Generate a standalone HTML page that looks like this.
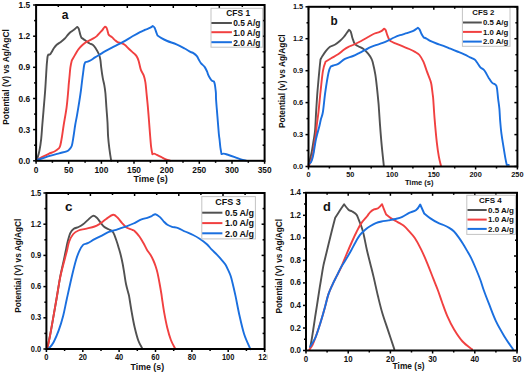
<!DOCTYPE html>
<html><head><meta charset="utf-8"><style>
html,body{margin:0;padding:0;background:#fff;}
body{width:525px;height:373px;overflow:hidden;}
svg{display:block;}
</style></head><body>
<svg width="525" height="373" viewBox="0 0 525 373">
<rect width="525" height="373" fill="#fff"/>
<line x1="36.1" y1="160.8" x2="36.1" y2="163.8" stroke="#000" stroke-width="1.5"/>
<line x1="52.4" y1="160.8" x2="52.4" y2="162.8" stroke="#000" stroke-width="1.5"/>
<line x1="68.7" y1="160.8" x2="68.7" y2="163.8" stroke="#000" stroke-width="1.5"/>
<line x1="85.1" y1="160.8" x2="85.1" y2="162.8" stroke="#000" stroke-width="1.5"/>
<line x1="101.4" y1="160.8" x2="101.4" y2="163.8" stroke="#000" stroke-width="1.5"/>
<line x1="117.7" y1="160.8" x2="117.7" y2="162.8" stroke="#000" stroke-width="1.5"/>
<line x1="134.0" y1="160.8" x2="134.0" y2="163.8" stroke="#000" stroke-width="1.5"/>
<line x1="150.4" y1="160.8" x2="150.4" y2="162.8" stroke="#000" stroke-width="1.5"/>
<line x1="166.7" y1="160.8" x2="166.7" y2="163.8" stroke="#000" stroke-width="1.5"/>
<line x1="183.0" y1="160.8" x2="183.0" y2="162.8" stroke="#000" stroke-width="1.5"/>
<line x1="199.3" y1="160.8" x2="199.3" y2="163.8" stroke="#000" stroke-width="1.5"/>
<line x1="215.6" y1="160.8" x2="215.6" y2="162.8" stroke="#000" stroke-width="1.5"/>
<line x1="232.0" y1="160.8" x2="232.0" y2="163.8" stroke="#000" stroke-width="1.5"/>
<line x1="248.3" y1="160.8" x2="248.3" y2="162.8" stroke="#000" stroke-width="1.5"/>
<line x1="264.6" y1="160.8" x2="264.6" y2="163.8" stroke="#000" stroke-width="1.5"/>
<line x1="36.1" y1="160.8" x2="33.1" y2="160.8" stroke="#000" stroke-width="1.5"/>
<line x1="264.6" y1="160.8" x2="261.6" y2="160.8" stroke="#000" stroke-width="1.5"/>
<line x1="36.1" y1="145.2" x2="34.1" y2="145.2" stroke="#000" stroke-width="1.5"/>
<line x1="264.6" y1="145.2" x2="262.6" y2="145.2" stroke="#000" stroke-width="1.5"/>
<line x1="36.1" y1="129.6" x2="33.1" y2="129.6" stroke="#000" stroke-width="1.5"/>
<line x1="264.6" y1="129.6" x2="261.6" y2="129.6" stroke="#000" stroke-width="1.5"/>
<line x1="36.1" y1="114.1" x2="34.1" y2="114.1" stroke="#000" stroke-width="1.5"/>
<line x1="264.6" y1="114.1" x2="262.6" y2="114.1" stroke="#000" stroke-width="1.5"/>
<line x1="36.1" y1="98.5" x2="33.1" y2="98.5" stroke="#000" stroke-width="1.5"/>
<line x1="264.6" y1="98.5" x2="261.6" y2="98.5" stroke="#000" stroke-width="1.5"/>
<line x1="36.1" y1="82.9" x2="34.1" y2="82.9" stroke="#000" stroke-width="1.5"/>
<line x1="264.6" y1="82.9" x2="262.6" y2="82.9" stroke="#000" stroke-width="1.5"/>
<line x1="36.1" y1="67.3" x2="33.1" y2="67.3" stroke="#000" stroke-width="1.5"/>
<line x1="264.6" y1="67.3" x2="261.6" y2="67.3" stroke="#000" stroke-width="1.5"/>
<line x1="36.1" y1="51.7" x2="34.1" y2="51.7" stroke="#000" stroke-width="1.5"/>
<line x1="264.6" y1="51.7" x2="262.6" y2="51.7" stroke="#000" stroke-width="1.5"/>
<line x1="36.1" y1="36.2" x2="33.1" y2="36.2" stroke="#000" stroke-width="1.5"/>
<line x1="264.6" y1="36.2" x2="261.6" y2="36.2" stroke="#000" stroke-width="1.5"/>
<line x1="36.1" y1="20.6" x2="34.1" y2="20.6" stroke="#000" stroke-width="1.5"/>
<line x1="264.6" y1="20.6" x2="262.6" y2="20.6" stroke="#000" stroke-width="1.5"/>
<line x1="36.1" y1="5.0" x2="33.1" y2="5.0" stroke="#000" stroke-width="1.5"/>
<line x1="264.6" y1="5.0" x2="261.6" y2="5.0" stroke="#000" stroke-width="1.5"/>
<line x1="58.3" y1="5.0" x2="58.3" y2="7.0" stroke="#000" stroke-width="1.5"/>
<line x1="81.3" y1="5.0" x2="81.3" y2="8.0" stroke="#000" stroke-width="1.5"/>
<line x1="104.3" y1="5.0" x2="104.3" y2="7.0" stroke="#000" stroke-width="1.5"/>
<line x1="127.3" y1="5.0" x2="127.3" y2="8.0" stroke="#000" stroke-width="1.5"/>
<line x1="150.3" y1="5.0" x2="150.3" y2="7.0" stroke="#000" stroke-width="1.5"/>
<line x1="173.3" y1="5.0" x2="173.3" y2="8.0" stroke="#000" stroke-width="1.5"/>
<line x1="196.3" y1="5.0" x2="196.3" y2="7.0" stroke="#000" stroke-width="1.5"/>
<line x1="219.3" y1="5.0" x2="219.3" y2="8.0" stroke="#000" stroke-width="1.5"/>
<line x1="242.3" y1="5.0" x2="242.3" y2="7.0" stroke="#000" stroke-width="1.5"/>
<g style="font-family:'Liberation Sans',sans-serif;font-weight:bold" fill="#111">
<text x="0" y="0" transform="translate(36.1 169.8) scale(0.95 1)" font-size="8.8" text-anchor="middle" dominant-baseline="central" >0</text>
<text x="0" y="0" transform="translate(68.7 169.8) scale(0.95 1)" font-size="8.8" text-anchor="middle" dominant-baseline="central" >50</text>
<text x="0" y="0" transform="translate(101.4 169.8) scale(0.95 1)" font-size="8.8" text-anchor="middle" dominant-baseline="central" >100</text>
<text x="0" y="0" transform="translate(134.0 169.8) scale(0.95 1)" font-size="8.8" text-anchor="middle" dominant-baseline="central" >150</text>
<text x="0" y="0" transform="translate(166.7 169.8) scale(0.95 1)" font-size="8.8" text-anchor="middle" dominant-baseline="central" >200</text>
<text x="0" y="0" transform="translate(199.3 169.8) scale(0.95 1)" font-size="8.8" text-anchor="middle" dominant-baseline="central" >250</text>
<text x="0" y="0" transform="translate(232.0 169.8) scale(0.95 1)" font-size="8.8" text-anchor="middle" dominant-baseline="central" >300</text>
<text x="0" y="0" transform="translate(264.6 169.8) scale(0.95 1)" font-size="8.8" text-anchor="middle" dominant-baseline="central" >350</text>
<text x="0" y="0" transform="translate(30.2 160.8) scale(0.95 1)" font-size="8.8" text-anchor="end" dominant-baseline="central" >0.0</text>
<text x="0" y="0" transform="translate(30.2 129.6) scale(0.95 1)" font-size="8.8" text-anchor="end" dominant-baseline="central" >0.3</text>
<text x="0" y="0" transform="translate(30.2 98.5) scale(0.95 1)" font-size="8.8" text-anchor="end" dominant-baseline="central" >0.6</text>
<text x="0" y="0" transform="translate(30.2 67.3) scale(0.95 1)" font-size="8.8" text-anchor="end" dominant-baseline="central" >0.9</text>
<text x="0" y="0" transform="translate(30.2 36.2) scale(0.95 1)" font-size="8.8" text-anchor="end" dominant-baseline="central" >1.2</text>
<text x="0" y="0" transform="translate(30.2 5.0) scale(0.95 1)" font-size="8.8" text-anchor="end" dominant-baseline="central" >1.5</text>
<text x="0" y="0" transform="translate(150.6 179.3)" font-size="9.0" text-anchor="middle" dominant-baseline="central" >Time (s)</text>
<text x="0" y="0" transform="translate(6.2 77.0) rotate(-90)" font-size="8.4" text-anchor="middle" dominant-baseline="central" >Potential (V) vs Ag/AgCl</text>
</g>
<g style="font-family:'Liberation Sans',sans-serif;font-weight:bold" fill="#111">
<text x="0" y="0" transform="translate(61.7 15.2) scale(0.93 1)" font-size="13" text-anchor="start" dominant-baseline="central" >a</text>
</g>
<path d="M36.30,160.30 C36.53,159.80 37.17,158.95 37.70,157.30 C38.23,155.65 38.92,153.48 39.50,150.40 C40.08,147.32 40.73,143.03 41.20,138.80 C41.67,134.57 41.92,129.67 42.30,125.00 C42.68,120.33 43.02,116.63 43.50,110.80 C43.98,104.97 44.68,97.30 45.20,90.00 C45.72,82.70 46.27,72.00 46.60,67.00 C46.93,62.00 47.03,61.75 47.20,60.00 C47.37,58.25 47.42,57.40 47.60,56.50 C47.78,55.60 48.30,54.60 48.30,54.60 C48.30,54.60 49.27,54.98 49.80,54.60 C50.33,54.22 50.83,53.35 51.50,52.30 C52.17,51.25 52.93,49.55 53.80,48.30 C54.67,47.05 55.53,45.87 56.70,44.80 C57.87,43.73 59.45,42.95 60.80,41.90 C62.15,40.85 63.65,39.65 64.80,38.50 C65.95,37.35 66.73,36.07 67.70,35.00 C68.67,33.93 69.45,33.07 70.60,32.10 C71.75,31.13 73.50,30.07 74.60,29.20 C75.70,28.33 77.20,26.90 77.20,26.90 C77.20,26.90 78.17,27.35 78.70,28.70 C79.23,30.05 79.93,33.47 80.40,35.00 C80.87,36.53 81.50,37.90 81.50,37.90 C81.50,37.90 82.53,38.50 83.40,39.10 C84.27,39.70 85.67,40.77 86.70,41.50 C87.73,42.23 88.60,42.95 89.60,43.50 C90.60,44.05 91.72,44.05 92.70,44.80 C93.68,45.55 94.45,46.38 95.50,48.00 C96.55,49.62 98.18,52.50 99.00,54.50 C99.82,56.50 100.03,57.87 100.40,60.00 C100.77,62.13 100.82,64.35 101.20,67.30 C101.58,70.25 102.20,74.82 102.70,77.70 C103.20,80.58 103.75,82.05 104.20,84.60 C104.65,87.15 105.03,89.22 105.40,93.00 C105.77,96.78 106.05,102.42 106.40,107.30 C106.75,112.18 107.22,117.43 107.50,122.30 C107.78,127.17 107.80,132.20 108.10,136.50 C108.40,140.80 108.82,144.25 109.30,148.10 C109.78,151.95 110.65,157.57 111.00,159.60 C111.35,161.63 111.33,160.18 111.40,160.30" fill="none" stroke="#515151" stroke-width="1.9" stroke-linejoin="round" stroke-linecap="round"/>
<path d="M36.50,160.20 C37.57,159.62 40.87,157.77 42.90,156.70 C44.93,155.63 46.77,154.67 48.70,153.80 C50.63,152.93 52.87,152.35 54.50,151.50 C56.13,150.65 57.55,149.65 58.50,148.70 C59.45,147.75 59.62,147.83 60.20,145.80 C60.78,143.77 61.42,139.97 62.00,136.50 C62.58,133.03 62.93,129.87 63.70,125.00 C64.47,120.13 65.83,113.13 66.60,107.30 C67.37,101.47 67.95,93.78 68.30,90.00 C68.65,86.22 68.50,86.85 68.70,84.60 C68.90,82.35 69.22,79.38 69.50,76.50 C69.78,73.62 70.02,69.97 70.40,67.30 C70.78,64.63 71.80,60.50 71.80,60.50 C71.80,60.50 74.93,54.85 76.10,52.90 C77.27,50.95 77.70,50.15 78.80,48.80 C79.90,47.45 81.50,45.92 82.70,44.80 C83.90,43.68 84.77,42.88 86.00,42.10 C87.23,41.32 88.87,40.72 90.10,40.10 C91.33,39.48 92.28,39.07 93.40,38.40 C94.52,37.73 95.78,36.98 96.80,36.10 C97.82,35.22 98.62,34.05 99.50,33.10 C100.38,32.15 101.38,31.25 102.10,30.40 C102.82,29.55 103.32,28.62 103.80,28.00 C104.28,27.38 105.00,26.70 105.00,26.70 C105.00,26.70 106.08,27.03 106.50,27.70 C106.92,28.37 107.17,29.58 107.50,30.70 C107.83,31.82 108.50,34.40 108.50,34.40 C108.50,34.40 109.18,35.30 109.80,35.80 C110.42,36.30 111.35,36.68 112.20,37.40 C113.05,38.12 114.02,39.32 114.90,40.10 C115.78,40.88 116.40,41.57 117.50,42.10 C118.60,42.63 120.25,42.82 121.50,43.30 C122.75,43.78 123.83,44.13 125.00,45.00 C126.17,45.87 127.30,47.35 128.50,48.50 C129.70,49.65 131.08,50.90 132.20,51.90 C133.32,52.90 134.35,53.57 135.20,54.50 C136.05,55.43 136.70,56.33 137.30,57.50 C137.90,58.67 138.22,59.48 138.80,61.50 C139.38,63.52 139.98,67.28 140.80,69.60 C141.62,71.92 142.93,73.28 143.70,75.40 C144.47,77.52 144.93,79.37 145.40,82.30 C145.87,85.23 146.08,88.83 146.50,93.00 C146.92,97.17 147.47,102.42 147.90,107.30 C148.33,112.18 148.72,117.43 149.10,122.30 C149.48,127.17 149.85,132.32 150.20,136.50 C150.55,140.68 150.83,144.45 151.20,147.40 C151.57,150.35 152.40,154.20 152.40,154.20 C152.40,154.20 153.58,153.55 154.20,153.60 C154.82,153.65 154.97,153.95 156.10,154.50 C157.23,155.05 159.37,156.08 161.00,156.90 C162.63,157.72 164.35,158.78 165.90,159.40 C167.45,160.02 169.57,160.40 170.30,160.60" fill="none" stroke="#F14040" stroke-width="1.9" stroke-linejoin="round" stroke-linecap="round"/>
<path d="M37.20,159.60 C37.97,159.42 39.70,159.12 41.80,158.50 C43.90,157.88 46.92,156.77 49.80,155.90 C52.68,155.03 56.30,154.07 59.10,153.30 C61.90,152.53 64.87,151.98 66.60,151.30 C68.33,150.62 68.63,150.12 69.50,149.20 C70.37,148.28 71.13,147.92 71.80,145.80 C72.47,143.68 72.93,139.97 73.50,136.50 C74.07,133.03 74.62,128.52 75.20,125.00 C75.78,121.48 76.32,119.32 77.00,115.40 C77.68,111.48 78.63,105.73 79.30,101.50 C79.97,97.27 80.57,93.20 81.00,90.00 C81.43,86.80 81.55,85.12 81.90,82.30 C82.25,79.48 82.72,75.98 83.10,73.10 C83.48,70.22 83.82,66.83 84.20,65.00 C84.58,63.17 85.40,62.10 85.40,62.10 C85.40,62.10 86.73,61.95 87.70,61.60 C88.67,61.25 89.98,60.70 91.20,60.00 C92.42,59.30 93.40,58.42 95.00,57.40 C96.60,56.38 99.23,54.85 100.80,53.90 C102.37,52.95 102.23,52.92 104.40,51.70 C106.57,50.48 110.68,48.23 113.80,46.60 C116.92,44.97 119.98,43.62 123.10,41.90 C126.22,40.18 129.68,37.93 132.50,36.30 C135.32,34.67 137.98,33.15 140.00,32.10 C142.02,31.05 142.87,30.73 144.60,30.00 C146.33,29.27 149.03,28.37 150.40,27.70 C151.77,27.03 152.80,26.00 152.80,26.00 C152.80,26.00 154.02,26.65 154.60,27.70 C155.18,28.75 155.82,31.00 156.30,32.30 C156.78,33.60 157.50,35.50 157.50,35.50 C157.50,35.50 159.87,37.18 161.50,38.10 C163.13,39.02 164.80,39.95 167.30,41.00 C169.80,42.05 173.62,43.15 176.50,44.40 C179.38,45.65 182.28,47.25 184.60,48.50 C186.92,49.75 188.93,51.13 190.40,51.90 C191.87,52.67 192.32,52.40 193.40,53.10 C194.48,53.80 195.97,54.95 196.90,56.10 C197.83,57.25 198.30,58.78 199.00,60.00 C199.70,61.22 200.17,62.25 201.10,63.40 C202.03,64.55 203.60,65.53 204.60,66.90 C205.60,68.27 206.53,70.37 207.10,71.60 C207.67,72.83 207.48,73.13 208.00,74.30 C208.52,75.47 209.53,77.52 210.20,78.60 C210.87,79.68 211.38,80.33 212.00,80.80 C212.62,81.27 213.90,81.40 213.90,81.40 C213.90,81.40 214.55,83.02 214.80,84.20 C215.05,85.38 215.22,87.03 215.40,88.50 C215.58,89.97 215.78,91.08 215.90,93.00 C216.02,94.92 215.85,96.15 216.10,100.00 C216.35,103.85 216.95,110.52 217.40,116.10 C217.85,121.68 218.43,129.52 218.80,133.50 C219.17,137.48 219.33,137.65 219.60,140.00 C219.87,142.35 220.08,145.25 220.40,147.60 C220.72,149.95 221.50,154.10 221.50,154.10 C221.50,154.10 222.85,153.53 223.80,153.60 C224.75,153.67 225.37,153.92 227.20,154.50 C229.03,155.08 232.52,156.28 234.80,157.10 C237.08,157.92 238.98,158.82 240.90,159.40 C242.82,159.98 245.40,160.40 246.30,160.60" fill="none" stroke="#1A6FDF" stroke-width="1.9" stroke-linejoin="round" stroke-linecap="round"/>
<rect x="211" y="8.3" width="51.69999999999999" height="38.900000000000006" fill="#fff" stroke="#c4c4c4" stroke-width="1"/>
<g style="font-family:'Liberation Sans',sans-serif;font-weight:bold" fill="#111">
<text x="0" y="0" transform="translate(238.2 13.2)" font-size="8.4" text-anchor="middle" dominant-baseline="central" >CFS 1</text>
<line x1="211.4" y1="23" x2="231.9" y2="23" stroke="#515151" stroke-width="2"/>
<text x="0" y="0" transform="translate(233.2 23.3)" font-size="8.4" text-anchor="start" dominant-baseline="central" >0.5 A/g</text>
<line x1="211.4" y1="32.2" x2="231.9" y2="32.2" stroke="#F14040" stroke-width="2"/>
<text x="0" y="0" transform="translate(233.2 32.5)" font-size="8.4" text-anchor="start" dominant-baseline="central" >1.0 A/g</text>
<line x1="211.4" y1="42.2" x2="231.9" y2="42.2" stroke="#1A6FDF" stroke-width="2"/>
<text x="0" y="0" transform="translate(233.2 42.5)" font-size="8.4" text-anchor="start" dominant-baseline="central" >2.0 A/g</text>
</g>
<rect x="36.1" y="5.0" width="228.50000000000003" height="155.8" fill="none" stroke="#000" stroke-width="2"/>
<line x1="308.5" y1="166.5" x2="308.5" y2="169.5" stroke="#000" stroke-width="1.5"/>
<line x1="329.4" y1="166.5" x2="329.4" y2="168.5" stroke="#000" stroke-width="1.5"/>
<line x1="350.3" y1="166.5" x2="350.3" y2="169.5" stroke="#000" stroke-width="1.5"/>
<line x1="371.2" y1="166.5" x2="371.2" y2="168.5" stroke="#000" stroke-width="1.5"/>
<line x1="392.1" y1="166.5" x2="392.1" y2="169.5" stroke="#000" stroke-width="1.5"/>
<line x1="412.9" y1="166.5" x2="412.9" y2="168.5" stroke="#000" stroke-width="1.5"/>
<line x1="433.8" y1="166.5" x2="433.8" y2="169.5" stroke="#000" stroke-width="1.5"/>
<line x1="454.7" y1="166.5" x2="454.7" y2="168.5" stroke="#000" stroke-width="1.5"/>
<line x1="475.6" y1="166.5" x2="475.6" y2="169.5" stroke="#000" stroke-width="1.5"/>
<line x1="496.5" y1="166.5" x2="496.5" y2="168.5" stroke="#000" stroke-width="1.5"/>
<line x1="517.4" y1="166.5" x2="517.4" y2="169.5" stroke="#000" stroke-width="1.5"/>
<line x1="308.5" y1="166.5" x2="305.5" y2="166.5" stroke="#000" stroke-width="1.5"/>
<line x1="517.4" y1="166.5" x2="514.4" y2="166.5" stroke="#000" stroke-width="1.5"/>
<line x1="308.5" y1="150.5" x2="306.5" y2="150.5" stroke="#000" stroke-width="1.5"/>
<line x1="517.4" y1="150.5" x2="515.4" y2="150.5" stroke="#000" stroke-width="1.5"/>
<line x1="308.5" y1="134.6" x2="305.5" y2="134.6" stroke="#000" stroke-width="1.5"/>
<line x1="517.4" y1="134.6" x2="514.4" y2="134.6" stroke="#000" stroke-width="1.5"/>
<line x1="308.5" y1="118.6" x2="306.5" y2="118.6" stroke="#000" stroke-width="1.5"/>
<line x1="517.4" y1="118.6" x2="515.4" y2="118.6" stroke="#000" stroke-width="1.5"/>
<line x1="308.5" y1="102.6" x2="305.5" y2="102.6" stroke="#000" stroke-width="1.5"/>
<line x1="517.4" y1="102.6" x2="514.4" y2="102.6" stroke="#000" stroke-width="1.5"/>
<line x1="308.5" y1="86.7" x2="306.5" y2="86.7" stroke="#000" stroke-width="1.5"/>
<line x1="517.4" y1="86.7" x2="515.4" y2="86.7" stroke="#000" stroke-width="1.5"/>
<line x1="308.5" y1="70.7" x2="305.5" y2="70.7" stroke="#000" stroke-width="1.5"/>
<line x1="517.4" y1="70.7" x2="514.4" y2="70.7" stroke="#000" stroke-width="1.5"/>
<line x1="308.5" y1="54.7" x2="306.5" y2="54.7" stroke="#000" stroke-width="1.5"/>
<line x1="517.4" y1="54.7" x2="515.4" y2="54.7" stroke="#000" stroke-width="1.5"/>
<line x1="308.5" y1="38.7" x2="305.5" y2="38.7" stroke="#000" stroke-width="1.5"/>
<line x1="517.4" y1="38.7" x2="514.4" y2="38.7" stroke="#000" stroke-width="1.5"/>
<line x1="308.5" y1="22.8" x2="306.5" y2="22.8" stroke="#000" stroke-width="1.5"/>
<line x1="517.4" y1="22.8" x2="515.4" y2="22.8" stroke="#000" stroke-width="1.5"/>
<line x1="308.5" y1="6.8" x2="305.5" y2="6.8" stroke="#000" stroke-width="1.5"/>
<line x1="517.4" y1="6.8" x2="514.4" y2="6.8" stroke="#000" stroke-width="1.5"/>
<line x1="308.5" y1="6.8" x2="308.5" y2="9.8" stroke="#000" stroke-width="1.5"/>
<line x1="329.4" y1="6.8" x2="329.4" y2="8.8" stroke="#000" stroke-width="1.5"/>
<line x1="350.3" y1="6.8" x2="350.3" y2="9.8" stroke="#000" stroke-width="1.5"/>
<line x1="371.2" y1="6.8" x2="371.2" y2="8.8" stroke="#000" stroke-width="1.5"/>
<line x1="392.1" y1="6.8" x2="392.1" y2="9.8" stroke="#000" stroke-width="1.5"/>
<line x1="412.9" y1="6.8" x2="412.9" y2="8.8" stroke="#000" stroke-width="1.5"/>
<line x1="433.8" y1="6.8" x2="433.8" y2="9.8" stroke="#000" stroke-width="1.5"/>
<line x1="454.7" y1="6.8" x2="454.7" y2="8.8" stroke="#000" stroke-width="1.5"/>
<line x1="475.6" y1="6.8" x2="475.6" y2="9.8" stroke="#000" stroke-width="1.5"/>
<line x1="496.5" y1="6.8" x2="496.5" y2="8.8" stroke="#000" stroke-width="1.5"/>
<line x1="517.4" y1="6.8" x2="517.4" y2="9.8" stroke="#000" stroke-width="1.5"/>
<g style="font-family:'Liberation Sans',sans-serif;font-weight:bold" fill="#111">
<text x="0" y="0" transform="translate(308.5 174.8) scale(0.92 1)" font-size="8.0" text-anchor="middle" dominant-baseline="central" >0</text>
<text x="0" y="0" transform="translate(350.3 174.8) scale(0.92 1)" font-size="8.0" text-anchor="middle" dominant-baseline="central" >50</text>
<text x="0" y="0" transform="translate(392.1 174.8) scale(0.92 1)" font-size="8.0" text-anchor="middle" dominant-baseline="central" >100</text>
<text x="0" y="0" transform="translate(433.8 174.8) scale(0.92 1)" font-size="8.0" text-anchor="middle" dominant-baseline="central" >150</text>
<text x="0" y="0" transform="translate(475.6 174.8) scale(0.92 1)" font-size="8.0" text-anchor="middle" dominant-baseline="central" >200</text>
<text x="0" y="0" transform="translate(517.4 174.8) scale(0.92 1)" font-size="8.0" text-anchor="middle" dominant-baseline="central" >250</text>
<text x="0" y="0" transform="translate(303.2 166.5) scale(0.92 1)" font-size="8.0" text-anchor="end" dominant-baseline="central" >0.0</text>
<text x="0" y="0" transform="translate(303.2 134.6) scale(0.92 1)" font-size="8.0" text-anchor="end" dominant-baseline="central" >0.3</text>
<text x="0" y="0" transform="translate(303.2 102.6) scale(0.92 1)" font-size="8.0" text-anchor="end" dominant-baseline="central" >0.6</text>
<text x="0" y="0" transform="translate(303.2 70.7) scale(0.92 1)" font-size="8.0" text-anchor="end" dominant-baseline="central" >0.9</text>
<text x="0" y="0" transform="translate(303.2 38.7) scale(0.92 1)" font-size="8.0" text-anchor="end" dominant-baseline="central" >1.2</text>
<text x="0" y="0" transform="translate(303.2 6.8) scale(0.92 1)" font-size="8.0" text-anchor="end" dominant-baseline="central" >1.5</text>
<text x="0" y="0" transform="translate(419.2 182.8) scale(0.94 1)" font-size="8.0" text-anchor="middle" dominant-baseline="central" >Time (s)</text>
<text x="0" y="0" transform="translate(282.0 81.2) rotate(-90)" font-size="8.3" text-anchor="middle" dominant-baseline="central" >Potential (v) vs Ag/AgCl</text>
</g>
<g style="font-family:'Liberation Sans',sans-serif;font-weight:bold" fill="#111">
<text x="0" y="0" transform="translate(330.6 21.0) scale(0.92 1)" font-size="12.8" text-anchor="start" dominant-baseline="central" >b</text>
</g>
<path d="M308.60,164.50 C308.87,163.50 309.68,160.58 310.20,158.50 C310.72,156.42 311.12,155.08 311.70,152.00 C312.28,148.92 313.13,143.67 313.70,140.00 C314.27,136.33 314.70,134.67 315.10,130.00 C315.50,125.33 315.75,117.83 316.10,112.00 C316.45,106.17 316.83,100.00 317.20,95.00 C317.57,90.00 317.90,86.50 318.30,82.00 C318.70,77.50 319.23,71.75 319.60,68.00 C319.97,64.25 320.50,59.50 320.50,59.50 C320.50,59.50 321.68,57.25 322.60,55.80 C323.52,54.35 324.77,52.30 326.00,50.80 C327.23,49.30 328.47,47.85 330.00,46.80 C331.53,45.75 333.57,45.47 335.20,44.50 C336.83,43.53 338.37,42.25 339.80,41.00 C341.23,39.75 342.65,38.33 343.80,37.00 C344.95,35.67 345.83,34.20 346.70,33.00 C347.57,31.80 349.00,29.80 349.00,29.80 C349.00,29.80 350.22,30.40 350.80,31.80 C351.38,33.20 351.83,36.18 352.50,38.20 C353.17,40.22 353.83,42.57 354.80,43.90 C355.77,45.23 356.85,45.33 358.30,46.20 C359.75,47.07 361.87,47.85 363.50,49.10 C365.13,50.35 366.77,52.07 368.10,53.70 C369.43,55.33 370.70,57.35 371.50,58.90 C372.30,60.45 372.27,60.43 372.90,63.00 C373.53,65.57 374.63,70.27 375.30,74.30 C375.97,78.33 376.37,82.38 376.90,87.20 C377.43,92.02 378.15,99.40 378.50,103.20 C378.85,107.00 378.73,106.18 379.00,110.00 C379.27,113.82 379.65,120.20 380.10,126.10 C380.55,132.00 381.08,138.83 381.70,145.40 C382.32,151.97 383.45,162.15 383.80,165.50" fill="none" stroke="#515151" stroke-width="1.9" stroke-linejoin="round" stroke-linecap="round"/>
<path d="M308.40,166.00 C308.60,165.68 309.07,165.22 309.60,164.10 C310.13,162.98 310.98,161.32 311.60,159.30 C312.22,157.28 312.75,155.22 313.30,152.00 C313.85,148.78 314.50,142.65 314.90,140.00 C315.30,137.35 315.37,138.75 315.70,136.10 C316.03,133.45 316.43,128.12 316.90,124.10 C317.37,120.08 317.90,117.35 318.50,112.00 C319.10,106.65 319.77,98.82 320.50,92.00 C321.23,85.18 322.07,76.13 322.90,71.10 C323.73,66.07 325.50,61.80 325.50,61.80 C325.50,61.80 329.10,59.55 331.20,58.30 C333.30,57.05 336.00,55.73 338.10,54.30 C340.20,52.87 342.07,50.95 343.80,49.70 C345.53,48.45 346.77,47.67 348.50,46.80 C350.23,45.93 352.08,45.47 354.20,44.50 C356.32,43.53 358.88,42.25 361.20,41.00 C363.52,39.75 365.87,38.25 368.10,37.00 C370.33,35.75 372.75,34.32 374.60,33.50 C376.45,32.68 377.95,32.58 379.20,32.10 C380.45,31.62 381.28,31.18 382.10,30.60 C382.92,30.02 384.10,28.60 384.10,28.60 C384.10,28.60 385.07,28.90 385.60,30.00 C386.13,31.10 386.73,33.67 387.30,35.20 C387.87,36.73 388.42,38.18 389.00,39.20 C389.58,40.22 389.73,40.62 390.80,41.30 C391.87,41.98 393.48,42.48 395.40,43.30 C397.32,44.12 400.00,45.25 402.30,46.20 C404.60,47.15 407.08,48.05 409.20,49.00 C411.32,49.95 413.30,50.90 415.00,51.90 C416.70,52.90 418.00,53.37 419.40,55.00 C420.80,56.63 422.17,59.02 423.40,61.70 C424.63,64.38 425.68,68.08 426.80,71.10 C427.92,74.12 429.33,77.57 430.10,79.80 C430.87,82.03 430.95,81.93 431.40,84.50 C431.85,87.07 432.48,92.62 432.80,95.20 C433.12,97.78 433.00,96.07 433.30,100.00 C433.60,103.93 434.00,111.60 434.60,118.80 C435.20,126.00 436.20,136.95 436.90,143.20 C437.60,149.45 438.12,152.50 438.80,156.30 C439.48,160.10 440.63,164.38 441.00,166.00" fill="none" stroke="#F14040" stroke-width="1.9" stroke-linejoin="round" stroke-linecap="round"/>
<path d="M308.80,163.70 C309.13,163.50 310.20,163.37 310.80,162.50 C311.40,161.63 311.90,160.25 312.40,158.50 C312.90,156.75 313.27,154.92 313.80,152.00 C314.33,149.08 315.05,143.92 315.60,141.00 C316.15,138.08 316.48,136.92 317.10,134.50 C317.72,132.08 318.67,129.05 319.30,126.50 C319.93,123.95 320.30,121.62 320.90,119.20 C321.50,116.78 322.17,116.53 322.90,112.00 C323.63,107.47 324.37,98.55 325.30,92.00 C326.23,85.45 327.57,76.98 328.50,72.70 C329.43,68.42 330.90,66.30 330.90,66.30 C330.90,66.30 332.08,65.92 333.30,65.50 C334.52,65.08 336.25,64.90 338.20,63.80 C340.15,62.70 342.52,60.20 345.00,58.90 C347.48,57.60 350.60,57.05 353.10,56.00 C355.60,54.95 357.88,53.65 360.00,52.60 C362.12,51.55 364.13,50.58 365.80,49.70 C367.47,48.82 368.33,48.05 370.00,47.30 C371.67,46.55 373.68,45.93 375.80,45.20 C377.92,44.47 380.58,43.70 382.70,42.90 C384.82,42.10 386.58,41.30 388.50,40.40 C390.42,39.50 392.28,38.37 394.20,37.50 C396.12,36.63 397.88,35.92 400.00,35.20 C402.12,34.48 404.78,33.87 406.90,33.20 C409.02,32.53 411.25,31.83 412.70,31.20 C414.15,30.57 414.73,29.98 415.60,29.40 C416.47,28.82 417.90,27.70 417.90,27.70 C417.90,27.70 419.03,28.43 419.60,29.40 C420.17,30.37 420.62,32.15 421.30,33.50 C421.98,34.85 423.70,37.50 423.70,37.50 C423.70,37.50 425.32,38.08 426.50,38.70 C427.68,39.32 429.13,40.40 430.80,41.20 C432.47,42.00 434.38,42.73 436.50,43.50 C438.62,44.27 441.18,44.93 443.50,45.80 C445.82,46.67 448.10,47.75 450.40,48.70 C452.70,49.65 455.00,50.55 457.30,51.50 C459.60,52.45 462.08,53.43 464.20,54.40 C466.32,55.37 468.27,56.43 470.00,57.30 C471.73,58.17 473.37,58.65 474.60,59.60 C475.83,60.55 476.43,61.72 477.40,63.00 C478.37,64.28 479.32,66.15 480.40,67.30 C481.48,68.45 482.90,68.83 483.90,69.90 C484.90,70.97 485.55,72.28 486.40,73.70 C487.25,75.12 488.07,76.90 489.00,78.40 C489.93,79.90 491.07,81.77 492.00,82.70 C492.93,83.63 494.60,84.00 494.60,84.00 C494.60,84.00 495.88,84.85 496.30,85.70 C496.72,86.55 496.80,86.95 497.10,89.10 C497.40,91.25 497.72,95.30 498.10,98.60 C498.48,101.90 499.07,105.33 499.40,108.90 C499.73,112.47 499.77,115.92 500.10,120.00 C500.43,124.08 500.83,128.93 501.40,133.40 C501.97,137.87 502.82,142.55 503.50,146.80 C504.18,151.05 504.95,155.88 505.50,158.90 C506.05,161.92 506.80,164.90 506.80,164.90 C506.80,164.90 508.47,164.90 508.80,164.90" fill="none" stroke="#1A6FDF" stroke-width="1.9" stroke-linejoin="round" stroke-linecap="round"/>
<rect x="462.4" y="7.4" width="47.60000000000002" height="38.9" fill="#fff" stroke="#c4c4c4" stroke-width="1"/>
<g style="font-family:'Liberation Sans',sans-serif;font-weight:bold" fill="#111">
<text x="0" y="0" transform="translate(483.4 12.7)" font-size="7.8" text-anchor="middle" dominant-baseline="central" >CFS 2</text>
<line x1="463" y1="22.5" x2="481.8" y2="22.5" stroke="#515151" stroke-width="2"/>
<text x="0" y="0" transform="translate(483.0 22.8)" font-size="7.8" text-anchor="start" dominant-baseline="central" >0.5 A/g</text>
<line x1="463" y1="31.9" x2="481.8" y2="31.9" stroke="#F14040" stroke-width="2"/>
<text x="0" y="0" transform="translate(483.0 32.199999999999996)" font-size="7.8" text-anchor="start" dominant-baseline="central" >1.0 A/g</text>
<line x1="463" y1="41.6" x2="481.8" y2="41.6" stroke="#1A6FDF" stroke-width="2"/>
<text x="0" y="0" transform="translate(483.0 41.9)" font-size="7.8" text-anchor="start" dominant-baseline="central" >2.0 A/g</text>
</g>
<rect x="308.5" y="6.8" width="208.89999999999998" height="159.7" fill="none" stroke="#000" stroke-width="2"/>
<line x1="46.4" y1="349.0" x2="46.4" y2="352.0" stroke="#000" stroke-width="1.5"/>
<line x1="64.6" y1="349.0" x2="64.6" y2="351.0" stroke="#000" stroke-width="1.5"/>
<line x1="82.8" y1="349.0" x2="82.8" y2="352.0" stroke="#000" stroke-width="1.5"/>
<line x1="101.0" y1="349.0" x2="101.0" y2="351.0" stroke="#000" stroke-width="1.5"/>
<line x1="119.1" y1="349.0" x2="119.1" y2="352.0" stroke="#000" stroke-width="1.5"/>
<line x1="137.3" y1="349.0" x2="137.3" y2="351.0" stroke="#000" stroke-width="1.5"/>
<line x1="155.5" y1="349.0" x2="155.5" y2="352.0" stroke="#000" stroke-width="1.5"/>
<line x1="173.7" y1="349.0" x2="173.7" y2="351.0" stroke="#000" stroke-width="1.5"/>
<line x1="191.9" y1="349.0" x2="191.9" y2="352.0" stroke="#000" stroke-width="1.5"/>
<line x1="210.1" y1="349.0" x2="210.1" y2="351.0" stroke="#000" stroke-width="1.5"/>
<line x1="228.2" y1="349.0" x2="228.2" y2="352.0" stroke="#000" stroke-width="1.5"/>
<line x1="246.4" y1="349.0" x2="246.4" y2="351.0" stroke="#000" stroke-width="1.5"/>
<line x1="264.6" y1="349.0" x2="264.6" y2="352.0" stroke="#000" stroke-width="1.5"/>
<line x1="46.4" y1="349.0" x2="43.4" y2="349.0" stroke="#000" stroke-width="1.5"/>
<line x1="264.6" y1="349.0" x2="261.6" y2="349.0" stroke="#000" stroke-width="1.5"/>
<line x1="46.4" y1="333.4" x2="44.4" y2="333.4" stroke="#000" stroke-width="1.5"/>
<line x1="264.6" y1="333.4" x2="262.6" y2="333.4" stroke="#000" stroke-width="1.5"/>
<line x1="46.4" y1="317.8" x2="43.4" y2="317.8" stroke="#000" stroke-width="1.5"/>
<line x1="264.6" y1="317.8" x2="261.6" y2="317.8" stroke="#000" stroke-width="1.5"/>
<line x1="46.4" y1="302.2" x2="44.4" y2="302.2" stroke="#000" stroke-width="1.5"/>
<line x1="264.6" y1="302.2" x2="262.6" y2="302.2" stroke="#000" stroke-width="1.5"/>
<line x1="46.4" y1="286.6" x2="43.4" y2="286.6" stroke="#000" stroke-width="1.5"/>
<line x1="264.6" y1="286.6" x2="261.6" y2="286.6" stroke="#000" stroke-width="1.5"/>
<line x1="46.4" y1="271.0" x2="44.4" y2="271.0" stroke="#000" stroke-width="1.5"/>
<line x1="264.6" y1="271.0" x2="262.6" y2="271.0" stroke="#000" stroke-width="1.5"/>
<line x1="46.4" y1="255.4" x2="43.4" y2="255.4" stroke="#000" stroke-width="1.5"/>
<line x1="264.6" y1="255.4" x2="261.6" y2="255.4" stroke="#000" stroke-width="1.5"/>
<line x1="46.4" y1="239.8" x2="44.4" y2="239.8" stroke="#000" stroke-width="1.5"/>
<line x1="264.6" y1="239.8" x2="262.6" y2="239.8" stroke="#000" stroke-width="1.5"/>
<line x1="46.4" y1="224.2" x2="43.4" y2="224.2" stroke="#000" stroke-width="1.5"/>
<line x1="264.6" y1="224.2" x2="261.6" y2="224.2" stroke="#000" stroke-width="1.5"/>
<line x1="46.4" y1="208.6" x2="44.4" y2="208.6" stroke="#000" stroke-width="1.5"/>
<line x1="264.6" y1="208.6" x2="262.6" y2="208.6" stroke="#000" stroke-width="1.5"/>
<line x1="46.4" y1="193.0" x2="43.4" y2="193.0" stroke="#000" stroke-width="1.5"/>
<line x1="264.6" y1="193.0" x2="261.6" y2="193.0" stroke="#000" stroke-width="1.5"/>
<line x1="68.3" y1="193.0" x2="68.3" y2="195.0" stroke="#000" stroke-width="1.5"/>
<line x1="90.4" y1="193.0" x2="90.4" y2="196.0" stroke="#000" stroke-width="1.5"/>
<line x1="112.5" y1="193.0" x2="112.5" y2="195.0" stroke="#000" stroke-width="1.5"/>
<line x1="134.6" y1="193.0" x2="134.6" y2="196.0" stroke="#000" stroke-width="1.5"/>
<line x1="156.7" y1="193.0" x2="156.7" y2="195.0" stroke="#000" stroke-width="1.5"/>
<line x1="178.8" y1="193.0" x2="178.8" y2="196.0" stroke="#000" stroke-width="1.5"/>
<line x1="200.9" y1="193.0" x2="200.9" y2="195.0" stroke="#000" stroke-width="1.5"/>
<line x1="223.0" y1="193.0" x2="223.0" y2="196.0" stroke="#000" stroke-width="1.5"/>
<line x1="245.1" y1="193.0" x2="245.1" y2="195.0" stroke="#000" stroke-width="1.5"/>
<g style="font-family:'Liberation Sans',sans-serif;font-weight:bold" fill="#111">
<clipPath id="clipc"><rect x="0" y="0" width="267.3" height="373"/></clipPath><g clip-path="url(#clipc)">
<text x="0" y="0" transform="translate(46.4 357.4) scale(0.89 1)" font-size="8.4" text-anchor="middle" dominant-baseline="central" >0</text>
<text x="0" y="0" transform="translate(82.8 357.4) scale(0.89 1)" font-size="8.4" text-anchor="middle" dominant-baseline="central" >20</text>
<text x="0" y="0" transform="translate(119.1 357.4) scale(0.89 1)" font-size="8.4" text-anchor="middle" dominant-baseline="central" >40</text>
<text x="0" y="0" transform="translate(155.5 357.4) scale(0.89 1)" font-size="8.4" text-anchor="middle" dominant-baseline="central" >60</text>
<text x="0" y="0" transform="translate(191.9 357.4) scale(0.89 1)" font-size="8.4" text-anchor="middle" dominant-baseline="central" >80</text>
<text x="0" y="0" transform="translate(228.2 357.4) scale(0.89 1)" font-size="8.4" text-anchor="middle" dominant-baseline="central" >100</text>
<text x="0" y="0" transform="translate(264.6 357.4) scale(0.89 1)" font-size="8.4" text-anchor="middle" dominant-baseline="central" >120</text>
</g>
<text x="0" y="0" transform="translate(41.2 349.0) scale(0.89 1)" font-size="8.4" text-anchor="end" dominant-baseline="central" >0.0</text>
<text x="0" y="0" transform="translate(41.2 317.8) scale(0.89 1)" font-size="8.4" text-anchor="end" dominant-baseline="central" >0.3</text>
<text x="0" y="0" transform="translate(41.2 286.6) scale(0.89 1)" font-size="8.4" text-anchor="end" dominant-baseline="central" >0.6</text>
<text x="0" y="0" transform="translate(41.2 255.4) scale(0.89 1)" font-size="8.4" text-anchor="end" dominant-baseline="central" >0.9</text>
<text x="0" y="0" transform="translate(41.2 224.2) scale(0.89 1)" font-size="8.4" text-anchor="end" dominant-baseline="central" >1.2</text>
<text x="0" y="0" transform="translate(41.2 193.0) scale(0.89 1)" font-size="8.4" text-anchor="end" dominant-baseline="central" >1.5</text>
<text x="0" y="0" transform="translate(147.3 367.0)" font-size="8.8" text-anchor="middle" dominant-baseline="central" >Time (s)</text>
<text x="0" y="0" transform="translate(18.5 265.8) rotate(-90)" font-size="8.25" text-anchor="middle" dominant-baseline="central" >Potential (V) vs Ag/AgCl</text>
</g>
<g style="font-family:'Liberation Sans',sans-serif;font-weight:bold" fill="#111">
<text x="0" y="0" transform="translate(65.05 206.7)" font-size="13.5" text-anchor="start" dominant-baseline="central" >c</text>
</g>
<path d="M47.20,348.80 C47.65,346.72 48.97,341.08 49.90,336.30 C50.83,331.52 51.70,326.32 52.80,320.10 C53.90,313.88 55.28,306.12 56.50,299.00 C57.72,291.88 58.87,283.95 60.10,277.40 C61.33,270.85 62.97,264.10 63.90,259.70 C64.83,255.30 65.07,254.03 65.70,251.00 C66.33,247.97 66.92,244.53 67.70,241.50 C68.48,238.47 69.38,234.92 70.40,232.80 C71.42,230.68 72.45,229.77 73.80,228.80 C75.15,227.83 76.95,227.77 78.50,227.00 C80.05,226.23 81.57,225.35 83.10,224.20 C84.63,223.05 86.07,221.50 87.70,220.10 C89.33,218.70 91.37,216.18 92.90,215.80 C94.43,215.42 95.65,216.70 96.90,217.80 C98.15,218.90 99.25,220.95 100.40,222.40 C101.55,223.85 102.45,225.35 103.80,226.50 C105.15,227.65 106.95,228.35 108.50,229.30 C110.05,230.25 111.70,230.08 113.10,232.20 C114.50,234.32 115.93,239.28 116.90,242.00 C117.87,244.72 118.23,246.22 118.90,248.50 C119.57,250.78 120.27,253.12 120.90,255.70 C121.53,258.28 122.15,261.13 122.70,264.00 C123.25,266.87 123.65,269.57 124.20,272.90 C124.75,276.23 125.27,280.48 126.00,284.00 C126.73,287.52 128.03,291.67 128.60,294.00 C129.17,296.33 128.87,294.88 129.40,298.00 C129.93,301.12 130.92,307.78 131.80,312.70 C132.68,317.62 133.60,322.82 134.70,327.50 C135.80,332.18 137.17,337.37 138.40,340.80 C139.63,344.23 141.37,346.77 142.10,348.10 C142.83,349.43 142.68,348.68 142.80,348.80" fill="none" stroke="#515151" stroke-width="1.9" stroke-linejoin="round" stroke-linecap="round"/>
<path d="M47.20,348.80 C47.65,346.72 48.97,341.08 49.90,336.30 C50.83,331.52 51.70,326.32 52.80,320.10 C53.90,313.88 55.27,306.12 56.50,299.00 C57.73,291.88 58.85,283.95 60.20,277.40 C61.55,270.85 63.48,264.10 64.60,259.70 C65.72,255.30 66.13,254.03 66.90,251.00 C67.67,247.97 68.13,244.33 69.20,241.50 C70.27,238.67 71.75,235.83 73.30,234.00 C74.85,232.17 76.48,231.37 78.50,230.50 C80.52,229.63 82.72,229.47 85.40,228.80 C88.08,228.13 92.30,227.27 94.60,226.50 C96.90,225.73 97.27,225.45 99.20,224.20 C101.13,222.95 103.88,220.58 106.20,219.00 C108.52,217.42 111.18,214.90 113.10,214.70 C115.02,214.50 116.23,216.43 117.70,217.80 C119.17,219.17 120.43,221.28 121.90,222.90 C123.37,224.52 124.77,226.35 126.50,227.50 C128.23,228.65 130.92,229.17 132.30,229.80 C133.68,230.43 133.62,230.18 134.80,231.30 C135.98,232.42 137.97,234.55 139.40,236.50 C140.83,238.45 142.15,240.80 143.40,243.00 C144.65,245.20 145.70,247.70 146.90,249.70 C148.10,251.70 149.52,253.20 150.60,255.00 C151.68,256.80 152.55,258.58 153.40,260.50 C154.25,262.42 155.02,264.43 155.70,266.50 C156.38,268.57 156.87,270.15 157.50,272.90 C158.13,275.65 158.85,279.48 159.50,283.00 C160.15,286.52 160.97,291.33 161.40,294.00 C161.83,296.67 161.63,295.88 162.10,299.00 C162.57,302.12 163.35,307.95 164.20,312.70 C165.05,317.45 166.08,322.95 167.20,327.50 C168.32,332.05 169.55,336.43 170.90,340.00 C172.25,343.57 174.57,347.42 175.30,348.90" fill="none" stroke="#F14040" stroke-width="1.9" stroke-linejoin="round" stroke-linecap="round"/>
<path d="M47.00,349.30 C47.37,349.10 48.10,349.28 49.20,348.10 C50.30,346.92 52.02,345.15 53.60,342.20 C55.18,339.25 57.10,334.82 58.70,330.40 C60.30,325.98 61.85,320.93 63.20,315.70 C64.55,310.47 65.28,305.87 66.80,299.00 C68.32,292.13 70.75,281.05 72.30,274.50 C73.85,267.95 74.92,263.63 76.10,259.70 C77.28,255.77 78.23,253.37 79.40,250.90 C80.57,248.43 81.72,246.18 83.10,244.90 C84.48,243.62 85.78,244.15 87.70,243.20 C89.62,242.25 92.10,240.55 94.60,239.20 C97.10,237.85 100.20,236.35 102.70,235.10 C105.20,233.85 107.55,232.52 109.60,231.70 C111.65,230.88 113.13,230.80 115.00,230.20 C116.87,229.60 118.88,228.75 120.80,228.10 C122.72,227.45 124.38,227.07 126.50,226.30 C128.62,225.53 131.00,224.65 133.50,223.50 C136.00,222.35 139.20,220.33 141.50,219.40 C143.80,218.47 145.57,218.47 147.30,217.90 C149.03,217.33 150.55,216.62 151.90,216.00 C153.25,215.38 154.05,214.02 155.40,214.20 C156.75,214.38 158.63,215.92 160.00,217.10 C161.37,218.28 162.37,220.02 163.60,221.30 C164.83,222.58 166.00,223.88 167.40,224.80 C168.80,225.72 170.22,226.25 172.00,226.80 C173.78,227.35 175.93,227.32 178.10,228.10 C180.27,228.88 182.50,230.35 185.00,231.50 C187.50,232.65 190.60,233.75 193.10,235.00 C195.60,236.25 197.70,237.47 200.00,239.00 C202.30,240.53 204.98,242.47 206.90,244.20 C208.82,245.93 209.83,247.65 211.50,249.40 C213.17,251.15 215.15,252.88 216.90,254.70 C218.65,256.52 220.58,258.65 222.00,260.30 C223.42,261.95 224.40,263.03 225.40,264.60 C226.40,266.17 227.13,267.85 228.00,269.70 C228.87,271.55 229.88,273.65 230.60,275.70 C231.32,277.75 231.50,278.72 232.30,282.00 C233.10,285.28 234.23,289.95 235.40,295.40 C236.57,300.85 237.85,308.27 239.30,314.70 C240.75,321.13 242.33,328.45 244.10,334.00 C245.87,339.55 248.85,345.53 249.90,348.00 C250.95,350.47 250.32,348.67 250.40,348.80" fill="none" stroke="#1A6FDF" stroke-width="1.9" stroke-linejoin="round" stroke-linecap="round"/>
<rect x="201.8" y="196.6" width="53.599999999999994" height="42.30000000000001" fill="#fff" stroke="#c4c4c4" stroke-width="1"/>
<g style="font-family:'Liberation Sans',sans-serif;font-weight:bold" fill="#111">
<text x="0" y="0" transform="translate(228.0 201.9)" font-size="9.0" text-anchor="middle" dominant-baseline="central" >CFS 3</text>
<line x1="202.2" y1="212.7" x2="222.4" y2="212.7" stroke="#515151" stroke-width="2"/>
<text x="0" y="0" transform="translate(224.9 213.0)" font-size="9.0" text-anchor="start" dominant-baseline="central" >0.5 A/g</text>
<line x1="202.2" y1="223.1" x2="222.4" y2="223.1" stroke="#F14040" stroke-width="2"/>
<text x="0" y="0" transform="translate(224.9 223.4)" font-size="9.0" text-anchor="start" dominant-baseline="central" >1.0 A/g</text>
<line x1="202.2" y1="233.3" x2="222.4" y2="233.3" stroke="#1A6FDF" stroke-width="2"/>
<text x="0" y="0" transform="translate(224.9 233.60000000000002)" font-size="9.0" text-anchor="start" dominant-baseline="central" >2.0 A/g</text>
</g>
<rect x="46.4" y="193.0" width="218.20000000000002" height="156.0" fill="none" stroke="#000" stroke-width="2"/>
<line x1="306.0" y1="350.5" x2="306.0" y2="353.5" stroke="#000" stroke-width="1.5"/>
<line x1="327.1" y1="350.5" x2="327.1" y2="352.5" stroke="#000" stroke-width="1.5"/>
<line x1="348.2" y1="350.5" x2="348.2" y2="353.5" stroke="#000" stroke-width="1.5"/>
<line x1="369.3" y1="350.5" x2="369.3" y2="352.5" stroke="#000" stroke-width="1.5"/>
<line x1="390.4" y1="350.5" x2="390.4" y2="353.5" stroke="#000" stroke-width="1.5"/>
<line x1="411.5" y1="350.5" x2="411.5" y2="352.5" stroke="#000" stroke-width="1.5"/>
<line x1="432.6" y1="350.5" x2="432.6" y2="353.5" stroke="#000" stroke-width="1.5"/>
<line x1="453.7" y1="350.5" x2="453.7" y2="352.5" stroke="#000" stroke-width="1.5"/>
<line x1="474.8" y1="350.5" x2="474.8" y2="353.5" stroke="#000" stroke-width="1.5"/>
<line x1="495.9" y1="350.5" x2="495.9" y2="352.5" stroke="#000" stroke-width="1.5"/>
<line x1="517.0" y1="350.5" x2="517.0" y2="353.5" stroke="#000" stroke-width="1.5"/>
<line x1="306.0" y1="350.5" x2="303.0" y2="350.5" stroke="#000" stroke-width="1.5"/>
<line x1="306.0" y1="339.2" x2="304.0" y2="339.2" stroke="#000" stroke-width="1.5"/>
<line x1="306.0" y1="328.0" x2="303.0" y2="328.0" stroke="#000" stroke-width="1.5"/>
<line x1="306.0" y1="316.7" x2="304.0" y2="316.7" stroke="#000" stroke-width="1.5"/>
<line x1="306.0" y1="305.4" x2="303.0" y2="305.4" stroke="#000" stroke-width="1.5"/>
<line x1="306.0" y1="294.2" x2="304.0" y2="294.2" stroke="#000" stroke-width="1.5"/>
<line x1="306.0" y1="282.9" x2="303.0" y2="282.9" stroke="#000" stroke-width="1.5"/>
<line x1="306.0" y1="271.6" x2="304.0" y2="271.6" stroke="#000" stroke-width="1.5"/>
<line x1="306.0" y1="260.4" x2="303.0" y2="260.4" stroke="#000" stroke-width="1.5"/>
<line x1="306.0" y1="249.1" x2="304.0" y2="249.1" stroke="#000" stroke-width="1.5"/>
<line x1="306.0" y1="237.9" x2="303.0" y2="237.9" stroke="#000" stroke-width="1.5"/>
<line x1="306.0" y1="226.6" x2="304.0" y2="226.6" stroke="#000" stroke-width="1.5"/>
<line x1="306.0" y1="215.3" x2="303.0" y2="215.3" stroke="#000" stroke-width="1.5"/>
<line x1="306.0" y1="204.1" x2="304.0" y2="204.1" stroke="#000" stroke-width="1.5"/>
<line x1="306.0" y1="192.8" x2="303.0" y2="192.8" stroke="#000" stroke-width="1.5"/>
<line x1="517.0" y1="334.8" x2="515.0" y2="334.8" stroke="#000" stroke-width="1.5"/>
<line x1="517.0" y1="319.0" x2="514.0" y2="319.0" stroke="#000" stroke-width="1.5"/>
<line x1="517.0" y1="303.2" x2="515.0" y2="303.2" stroke="#000" stroke-width="1.5"/>
<line x1="517.0" y1="287.5" x2="514.0" y2="287.5" stroke="#000" stroke-width="1.5"/>
<line x1="517.0" y1="271.8" x2="515.0" y2="271.8" stroke="#000" stroke-width="1.5"/>
<line x1="517.0" y1="256.0" x2="514.0" y2="256.0" stroke="#000" stroke-width="1.5"/>
<line x1="517.0" y1="240.2" x2="515.0" y2="240.2" stroke="#000" stroke-width="1.5"/>
<line x1="517.0" y1="224.5" x2="514.0" y2="224.5" stroke="#000" stroke-width="1.5"/>
<line x1="517.0" y1="208.8" x2="515.0" y2="208.8" stroke="#000" stroke-width="1.5"/>
<line x1="306.0" y1="192.8" x2="306.0" y2="195.8" stroke="#000" stroke-width="1.5"/>
<line x1="327.1" y1="192.8" x2="327.1" y2="194.8" stroke="#000" stroke-width="1.5"/>
<line x1="348.2" y1="192.8" x2="348.2" y2="195.8" stroke="#000" stroke-width="1.5"/>
<line x1="369.3" y1="192.8" x2="369.3" y2="194.8" stroke="#000" stroke-width="1.5"/>
<line x1="390.4" y1="192.8" x2="390.4" y2="195.8" stroke="#000" stroke-width="1.5"/>
<line x1="411.5" y1="192.8" x2="411.5" y2="194.8" stroke="#000" stroke-width="1.5"/>
<line x1="432.6" y1="192.8" x2="432.6" y2="195.8" stroke="#000" stroke-width="1.5"/>
<line x1="453.7" y1="192.8" x2="453.7" y2="194.8" stroke="#000" stroke-width="1.5"/>
<line x1="474.8" y1="192.8" x2="474.8" y2="195.8" stroke="#000" stroke-width="1.5"/>
<line x1="495.9" y1="192.8" x2="495.9" y2="194.8" stroke="#000" stroke-width="1.5"/>
<line x1="517.0" y1="192.8" x2="517.0" y2="195.8" stroke="#000" stroke-width="1.5"/>
<g style="font-family:'Liberation Sans',sans-serif;font-weight:bold" fill="#111">
<text x="0" y="0" transform="translate(306.0 359.2) scale(0.94 1)" font-size="8.4" text-anchor="middle" dominant-baseline="central" >0</text>
<text x="0" y="0" transform="translate(348.2 359.2) scale(0.94 1)" font-size="8.4" text-anchor="middle" dominant-baseline="central" >10</text>
<text x="0" y="0" transform="translate(390.4 359.2) scale(0.94 1)" font-size="8.4" text-anchor="middle" dominant-baseline="central" >20</text>
<text x="0" y="0" transform="translate(432.6 359.2) scale(0.94 1)" font-size="8.4" text-anchor="middle" dominant-baseline="central" >30</text>
<text x="0" y="0" transform="translate(474.8 359.2) scale(0.94 1)" font-size="8.4" text-anchor="middle" dominant-baseline="central" >40</text>
<text x="0" y="0" transform="translate(517.0 359.2) scale(0.94 1)" font-size="8.4" text-anchor="middle" dominant-baseline="central" >50</text>
<text x="0" y="0" transform="translate(301.0 350.5) scale(0.94 1)" font-size="8.4" text-anchor="end" dominant-baseline="central" >0.0</text>
<text x="0" y="0" transform="translate(301.0 328.0) scale(0.94 1)" font-size="8.4" text-anchor="end" dominant-baseline="central" >0.2</text>
<text x="0" y="0" transform="translate(301.0 305.4) scale(0.94 1)" font-size="8.4" text-anchor="end" dominant-baseline="central" >0.4</text>
<text x="0" y="0" transform="translate(301.0 282.9) scale(0.94 1)" font-size="8.4" text-anchor="end" dominant-baseline="central" >0.6</text>
<text x="0" y="0" transform="translate(301.0 260.4) scale(0.94 1)" font-size="8.4" text-anchor="end" dominant-baseline="central" >0.8</text>
<text x="0" y="0" transform="translate(301.0 237.9) scale(0.94 1)" font-size="8.4" text-anchor="end" dominant-baseline="central" >1.0</text>
<text x="0" y="0" transform="translate(301.0 215.3) scale(0.94 1)" font-size="8.4" text-anchor="end" dominant-baseline="central" >1.2</text>
<text x="0" y="0" transform="translate(301.0 192.8) scale(0.94 1)" font-size="8.4" text-anchor="end" dominant-baseline="central" >1.4</text>
<text x="0" y="0" transform="translate(408.6 366.2)" font-size="8.4" text-anchor="middle" dominant-baseline="central" >Time (s)</text>
<text x="0" y="0" transform="translate(278.5 266.2) rotate(-90)" font-size="8.3" text-anchor="middle" dominant-baseline="central" >Potential (V) vs Ag/AgCl</text>
</g>
<g style="font-family:'Liberation Sans',sans-serif;font-weight:bold" fill="#111">
<text x="0" y="0" transform="translate(323.0 206.6)" font-size="12.8" text-anchor="start" dominant-baseline="central" >d</text>
</g>
<path d="M310.20,347.30 C310.50,345.70 311.27,342.15 312.00,337.70 C312.73,333.25 314.00,324.55 314.60,320.60 C315.20,316.65 315.07,317.43 315.60,314.00 C316.13,310.57 317.12,304.38 317.80,300.00 C318.48,295.62 319.10,291.47 319.70,287.70 C320.30,283.93 320.83,280.83 321.40,277.40 C321.97,273.97 322.55,270.00 323.10,267.10 C323.65,264.20 324.12,262.48 324.70,260.00 C325.28,257.52 325.93,254.95 326.60,252.20 C327.27,249.45 327.82,247.10 328.70,243.50 C329.58,239.90 330.82,234.90 331.90,230.60 C332.98,226.30 335.20,217.70 335.20,217.70 C335.20,217.70 338.22,213.03 339.70,210.80 C341.18,208.57 344.10,204.30 344.10,204.30 C344.10,204.30 347.20,208.63 348.50,209.80 C349.80,210.97 350.57,210.48 351.90,211.30 C353.23,212.12 355.35,213.27 356.50,214.70 C357.65,216.13 357.83,217.48 358.80,219.90 C359.77,222.32 361.43,226.52 362.30,229.20 C363.17,231.88 363.23,232.53 364.00,236.00 C364.77,239.47 365.85,245.38 366.90,250.00 C367.95,254.62 369.17,259.13 370.30,263.70 C371.43,268.27 372.42,271.97 373.70,277.40 C374.98,282.83 376.57,290.37 378.00,296.30 C379.43,302.23 380.58,307.20 382.30,313.00 C384.02,318.80 386.30,325.08 388.30,331.10 C390.30,337.12 393.30,346.10 394.30,349.10" fill="none" stroke="#515151" stroke-width="1.9" stroke-linejoin="round" stroke-linecap="round"/>
<path d="M309.40,349.70 C309.93,348.88 311.60,346.80 312.60,344.80 C313.60,342.80 314.07,341.45 315.40,337.70 C316.73,333.95 319.07,327.17 320.60,322.30 C322.13,317.43 323.32,313.12 324.60,308.50 C325.88,303.88 326.97,298.63 328.30,294.60 C329.63,290.57 331.17,287.45 332.60,284.30 C334.03,281.15 335.42,278.67 336.90,275.70 C338.38,272.73 339.95,269.95 341.50,266.50 C343.05,263.05 344.37,259.33 346.20,255.00 C348.03,250.67 350.78,244.33 352.50,240.50 C354.22,236.67 355.05,234.85 356.50,232.00 C357.95,229.15 359.47,225.98 361.20,223.40 C362.93,220.82 365.43,218.35 366.90,216.50 C368.37,214.65 368.82,213.48 370.00,212.30 C371.18,211.12 372.65,210.07 374.00,209.40 C375.35,208.73 376.75,209.17 378.10,208.30 C379.45,207.43 382.10,204.20 382.10,204.20 C382.10,204.20 383.12,207.07 383.80,208.80 C384.48,210.53 386.20,214.60 386.20,214.60 C386.20,214.60 388.88,216.85 390.80,218.10 C392.72,219.35 395.58,220.85 397.70,222.10 C399.82,223.35 401.73,224.23 403.50,225.60 C405.27,226.97 406.42,228.23 408.30,230.30 C410.18,232.37 412.67,234.83 414.80,238.00 C416.93,241.17 418.98,245.00 421.10,249.30 C423.22,253.60 425.50,258.98 427.50,263.80 C429.50,268.62 431.38,273.83 433.10,278.20 C434.82,282.57 436.32,286.03 437.80,290.00 C439.28,293.97 440.43,297.70 442.00,302.00 C443.57,306.30 445.18,311.22 447.20,315.80 C449.22,320.38 451.53,325.22 454.10,329.50 C456.67,333.78 459.60,338.20 462.60,341.50 C465.60,344.80 470.52,348.00 472.10,349.30" fill="none" stroke="#F14040" stroke-width="1.9" stroke-linejoin="round" stroke-linecap="round"/>
<path d="M310.20,346.60 C311.07,345.12 313.67,341.75 315.40,337.70 C317.13,333.65 319.07,327.17 320.60,322.30 C322.13,317.43 323.32,313.12 324.60,308.50 C325.88,303.88 326.97,298.63 328.30,294.60 C329.63,290.57 331.17,287.45 332.60,284.30 C334.03,281.15 335.48,278.57 336.90,275.70 C338.32,272.83 339.68,269.67 341.10,267.10 C342.52,264.53 343.68,263.15 345.40,260.30 C347.12,257.45 349.83,252.80 351.40,250.00 C352.97,247.20 353.37,246.02 354.80,243.50 C356.23,240.98 358.17,237.28 360.00,234.90 C361.83,232.52 364.13,230.65 365.80,229.20 C367.47,227.75 368.33,227.22 370.00,226.20 C371.67,225.18 373.88,223.88 375.80,223.10 C377.72,222.32 379.38,221.95 381.50,221.50 C383.62,221.05 386.18,220.82 388.50,220.40 C390.82,219.98 393.10,219.58 395.40,219.00 C397.70,218.42 400.00,217.92 402.30,216.90 C404.60,215.88 406.88,214.05 409.20,212.90 C411.52,211.75 414.37,211.40 416.20,210.00 C418.03,208.60 420.20,204.50 420.20,204.50 C420.20,204.50 424.20,213.50 424.20,213.50 C424.20,213.50 428.15,216.87 430.40,218.40 C432.65,219.93 435.52,221.60 437.70,222.70 C439.88,223.80 441.58,224.13 443.50,225.00 C445.42,225.87 447.48,226.85 449.20,227.90 C450.92,228.95 452.25,229.77 453.80,231.30 C455.35,232.83 456.95,234.98 458.50,237.10 C460.05,239.22 461.55,241.52 463.10,244.00 C464.65,246.48 466.45,249.65 467.80,252.00 C469.15,254.35 469.87,255.35 471.20,258.10 C472.53,260.85 474.27,264.85 475.80,268.50 C477.33,272.15 479.08,276.42 480.40,280.00 C481.72,283.58 482.28,286.05 483.70,290.00 C485.12,293.95 486.88,298.55 488.90,303.70 C490.92,308.85 493.22,315.45 495.80,320.90 C498.38,326.35 501.53,331.67 504.40,336.40 C507.27,341.13 511.57,347.15 513.00,349.30" fill="none" stroke="#1A6FDF" stroke-width="1.9" stroke-linejoin="round" stroke-linecap="round"/>
<rect x="466.8" y="195.3" width="48.599999999999966" height="39.099999999999994" fill="#fff" stroke="#c4c4c4" stroke-width="1"/>
<g style="font-family:'Liberation Sans',sans-serif;font-weight:bold" fill="#111">
<text x="0" y="0" transform="translate(490.4 200.2)" font-size="8.0" text-anchor="middle" dominant-baseline="central" >CFS 4</text>
<line x1="467.5" y1="210" x2="486.7" y2="210" stroke="#515151" stroke-width="2"/>
<text x="0" y="0" transform="translate(488.0 210.3)" font-size="8.0" text-anchor="start" dominant-baseline="central" >0.5 A/g</text>
<line x1="467.5" y1="219.6" x2="486.7" y2="219.6" stroke="#F14040" stroke-width="2"/>
<text x="0" y="0" transform="translate(488.0 219.9)" font-size="8.0" text-anchor="start" dominant-baseline="central" >1.0 A/g</text>
<line x1="467.5" y1="228.9" x2="486.7" y2="228.9" stroke="#1A6FDF" stroke-width="2"/>
<text x="0" y="0" transform="translate(488.0 229.20000000000002)" font-size="8.0" text-anchor="start" dominant-baseline="central" >2.0 A/g</text>
</g>
<rect x="306.0" y="192.8" width="211.0" height="157.7" fill="none" stroke="#000" stroke-width="2"/>
</svg>
</body></html>
